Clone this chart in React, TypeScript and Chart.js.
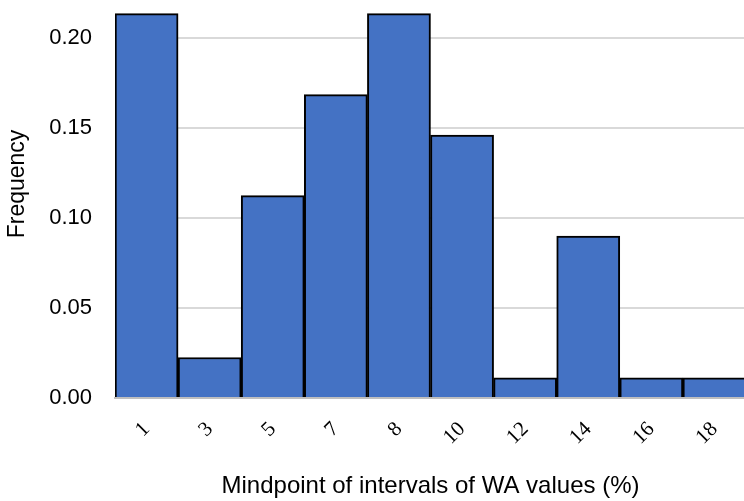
import { useEffect, useRef } from "react";
import { Chart, registerables } from "chart.js";

Chart.register(...registerables);

// Histogram of WA values: interval midpoints and relative frequencies
const midpoints = ["1", "3", "5", "7", "8", "10", "12", "14", "16", "18"];
const frequencies = [0.2135, 0.0225, 0.1124, 0.1685, 0.2135, 0.1461, 0.0112, 0.0899, 0.0112, 0.0112];
const yTickValues = [0, 0.05, 0.1, 0.15, 0.2];
const yAxisTitle = "Frequency";
const xAxisTitle = "Mindpoint of intervals of WA values (%)";

const SANS = "'Liberation Sans', Arial, sans-serif";
const SERIF = "'Liberation Serif', 'Times New Roman', serif";
const CLEAR = "rgba(0,0,0,0)";

// Draws the rotated y-axis title beside the tick labels
const yTitlePlugin = {
  id: "yTitle",
  afterDraw(chart: any) {
    const { ctx } = chart;
    ctx.save();
    ctx.translate(18, 184);
    ctx.rotate(-Math.PI / 2);
    ctx.font = `23px ${SANS}`;
    ctx.fillStyle = "#000";
    ctx.textAlign = "center";
    ctx.textBaseline = "middle";
    ctx.fillText(yAxisTitle, 0, 0);
    ctx.restore();
  },
};

export default function App() {
  const canvasRef = useRef<HTMLCanvasElement | null>(null);

  useEffect(() => {
    if (!canvasRef.current) return;
    const chart = new Chart(canvasRef.current, {
      type: "bar",
      data: {
        labels: midpoints,
        datasets: [
          {
            data: frequencies,
            backgroundColor: "#4472C4",
            borderColor: "#000000",
            borderWidth: 2,
            barPercentage: 1,
            categoryPercentage: 1,
          },
        ],
      },
      options: {
        responsive: false,
        animation: false,
        layout: { padding: { top: 2, left: 0, right: 0, bottom: 0 } },
        plugins: {
          legend: { display: false },
          tooltip: { enabled: false },
        },
        scales: {
          x: {
            z: 1,
            grid: {
              display: true,
              drawOnChartArea: false,
              drawTicks: true,
              tickLength: 19,
              color: CLEAR,
              tickColor: CLEAR,
            },
            border: { display: true, color: "#bfbfbf", width: 2 },
            ticks: {
              minRotation: 45,
              maxRotation: 45,
              padding: 0,
              color: "#000",
              font: { family: SERIF, size: 21 },
            },
            title: {
              display: true,
              text: xAxisTitle,
              color: "#000",
              font: { family: SANS, size: 24 },
              padding: { top: 0, bottom: 0 },
            },
            afterFit: (s: any) => {
              s.height = 103;
            },
          },
          y: {
            min: 0,
            max: 0.22,
            afterBuildTicks: (s: any) => {
              s.ticks = yTickValues.map((v) => ({ value: v }));
            },
            grid: {
              drawTicks: true,
              tickLength: 23,
              tickColor: CLEAR,
              color: (c: any) => (c.tick && c.tick.value === 0 ? "#bfbfbf" : "#d9d9d9"),
              lineWidth: 2,
            },
            border: { display: false },
            ticks: {
              padding: 0,
              color: "#000",
              font: { family: SANS, size: 22, lineHeight: 0.1 },
              callback: (v: any) => Number(v).toFixed(2),
            },
            afterFit: (s: any) => {
              s.width = 115;
            },
          },
        },
      },
      plugins: [yTitlePlugin],
    });
    return () => chart.destroy();
  }, []);

  return (
    <div
      style={{
        position: "fixed",
        left: 0,
        top: 0,
        width: 744,
        height: 501,
        overflow: "hidden",
        background: "#fff",
      }}
    >
      <canvas ref={canvasRef} width={746} height={501} style={{ display: "block" }} />
    </div>
  );
}
